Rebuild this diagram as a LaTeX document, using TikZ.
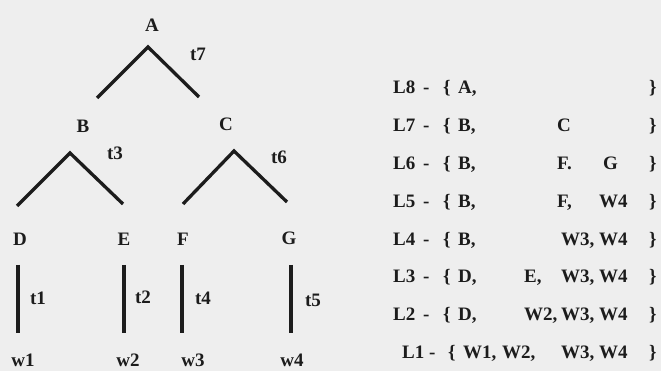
\documentclass[tikz,border=0pt]{standalone}
\usepackage{fontspec}
\setmainfont{Liberation Serif}
\definecolor{bgc}{RGB}{238,238,238}
\definecolor{ink}{RGB}{28,28,28}
\tikzset{
  lbl/.style={inner sep=0pt, anchor=base, text=ink, font=\fontsize{19}{19}\selectfont\bfseries},
  itm/.style={inner sep=0pt, anchor=base west, text=ink, font=\fontsize{19}{19}\selectfont\bfseries},
  branch/.style={draw=ink, line width=3.3pt, line join=miter, line cap=butt},
}
\begin{document}
\begin{tikzpicture}[x=1pt,y=-1pt]
\fill[bgc] (0,0) rectangle (661,371);
\useasboundingbox (0,0) rectangle (661,371);
% tree labels
\node[lbl] (A) at (152,32) {A};
\node[lbl] (B) at (83,133) {B};
\node[lbl] (C) at (226,131) {C};
\node[lbl] (D) at (20,246) {D};
\node[lbl] (E) at (124,246) {E};
\node[lbl] (F) at (183,246) {F};
\node[lbl] (G) at (289,245) {G};
\node[lbl] (t7) at (198,61) {t7};
\node[lbl] (t3) at (115,160) {t3};
\node[lbl] (t6) at (279,164) {t6};
\node[lbl] (t1) at (38,305) {t1};
\node[lbl] (t2) at (143,304) {t2};
\node[lbl] (t4) at (203,305) {t4};
\node[lbl] (t5) at (313,306) {t5};
\node[lbl] (w1) at (23,366) {w1};
\node[lbl] (w2) at (128,366) {w2};
\node[lbl] (w3) at (193,366) {w3};
\node[lbl] (w4) at (292,366) {w4};
% branch points
\coordinate (aA) at (148,47); \coordinate (aAl) at (97,98); \coordinate (aAr) at (199,97);
\coordinate (aB) at (70,153); \coordinate (aBl) at (17,206); \coordinate (aBr) at (123,204);
\coordinate (aC) at (234,151); \coordinate (aCl) at (183,204); \coordinate (aCr) at (287,202);
\draw[branch] (aAl) -- (aA) -- (aAr);
\draw[branch] (aBl) -- (aB) -- (aBr);
\draw[branch] (aCl) -- (aC) -- (aCr);
\coordinate (vDt) at (18,265); \coordinate (vDb) at (18,333);
\coordinate (vEt) at (124,265); \coordinate (vEb) at (124,333);
\coordinate (vFt) at (182,265); \coordinate (vFb) at (182,333);
\coordinate (vGt) at (291,265); \coordinate (vGb) at (291,333);
\draw[branch] (vDt) -- (vDb);
\draw[branch] (vEt) -- (vEb);
\draw[branch] (vFt) -- (vFb);
\draw[branch] (vGt) -- (vGb);
% list
\node[itm] (L8) at (393,94) {L8}; \node[itm] (L8d) at (423,94) {-}; \node[itm] (L8o) at (443,94) {\{};
\node[itm] (L8a) at (458,94) {A,}; \node[itm] (L8c) at (649,94) {\}};
\node[itm] (L7) at (393,132) {L7}; \node[itm] (L7d) at (423,132) {-}; \node[itm] (L7o) at (443,132) {\{};
\node[itm] (L7a) at (458,132) {B,}; \node[itm] (L7b) at (557,132) {C}; \node[itm] (L7c) at (649,132) {\}};
\node[itm] (L6) at (393,170) {L6}; \node[itm] (L6d) at (423,170) {-}; \node[itm] (L6o) at (443,170) {\{};
\node[itm] (L6a) at (458,170) {B,}; \node[itm] (L6b) at (557,170) {F.}; \node[itm] (L6g) at (603,170) {G}; \node[itm] (L6c) at (649,170) {\}};
\node[itm] (L5) at (393,208) {L5}; \node[itm] (L5d) at (423,208) {-}; \node[itm] (L5o) at (443,208) {\{};
\node[itm] (L5a) at (458,208) {B,}; \node[itm] (L5b) at (557,208) {F,}; \node[itm] (L5w) at (599,208) {W4}; \node[itm] (L5c) at (649,208) {\}};
\node[itm] (L4) at (393,246) {L4}; \node[itm] (L4d) at (423,246) {-}; \node[itm] (L4o) at (443,246) {\{};
\node[itm] (L4a) at (458,246) {B,}; \node[itm] (L4b) at (561,246) {W3,}; \node[itm] (L4w) at (599,246) {W4}; \node[itm] (L4c) at (649,246) {\}};
\node[itm] (L3) at (393,283) {L3}; \node[itm] (L3d) at (423,283) {-}; \node[itm] (L3o) at (443,283) {\{};
\node[itm] (L3a) at (458,283) {D,}; \node[itm] (L3e) at (524,283) {E,}; \node[itm] (L3b) at (561,283) {W3,}; \node[itm] (L3w) at (599,283) {W4}; \node[itm] (L3c) at (649,283) {\}};
\node[itm] (L2) at (393,320) {L2}; \node[itm] (L2d) at (423,320) {-}; \node[itm] (L2o) at (443,320) {\{};
\node[itm] (L2a) at (458,320) {D,}; \node[itm] (L2e) at (524,320) {W2,}; \node[itm] (L2b) at (561,320) {W3,}; \node[itm] (L2w) at (599,320) {W4}; \node[itm] (L2c) at (649,320) {\}};
\node[itm] (L1) at (402,358) {L1}; \node[itm] (L1d) at (429,358) {-}; \node[itm] (L1o) at (448,358) {\{};
\node[itm] (L1a) at (463,358) {W1,}; \node[itm] (L1e) at (502,358) {W2,}; \node[itm] (L1b) at (561,358) {W3,}; \node[itm] (L1w) at (599,358) {W4}; \node[itm] (L1c) at (649,358) {\}};
\end{tikzpicture}
\end{document}
